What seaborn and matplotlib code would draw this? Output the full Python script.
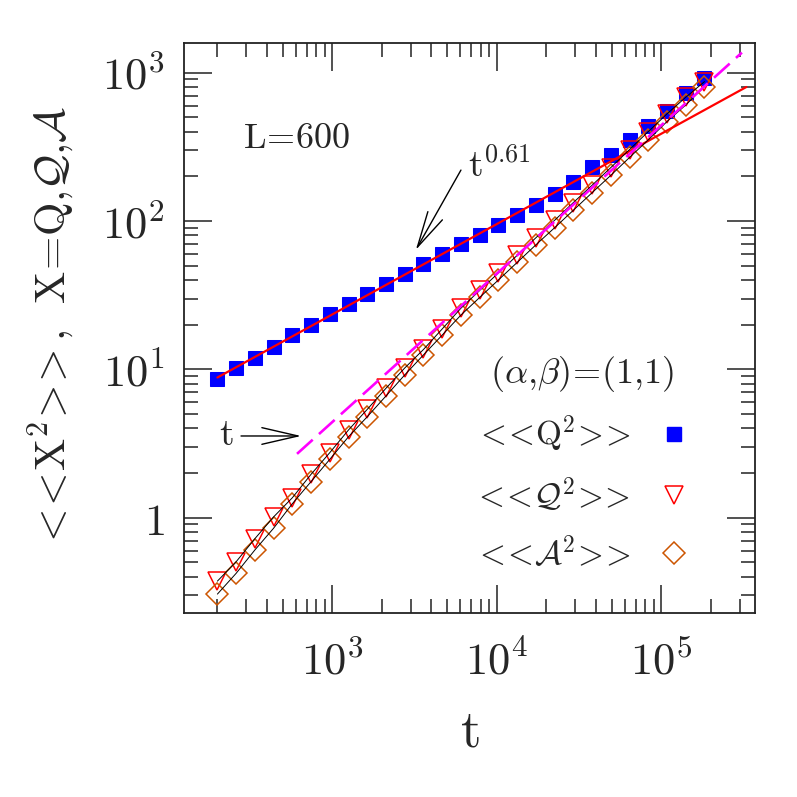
import numpy as np
import pandas as pd
import matplotlib
matplotlib.use("Agg")
import matplotlib.pyplot as plt
import matplotlib.ticker as mticker
from matplotlib.lines import Line2D
import seaborn as sns

# ---------------- data ----------------
t = [200, 260, 338, 439, 571, 743, 965, 1255, 1632, 2121, 2757, 3585, 4660,
     6058, 7876, 10238, 13310, 17303, 22494, 29242, 38015, 49420, 64245,
     83519, 108575, 141148, 183492]
Q2 = [8.6, 10.2, 12.0, 14.2, 16.9, 19.9, 23.5, 27.4, 32.2, 37.4, 43.9, 51.3,
      59.9, 70.0, 80.5, 94.0, 110, 128, 152, 184, 230, 279, 352, 437, 554,
      726, 917]
Qcal2 = [0.373, 0.504, 0.721, 1.01, 1.36, 1.96, 2.74, 3.90, 5.37, 7.45, 10.2,
         13.6, 18.7, 25.8, 34.0, 44.6, 58.6, 77.0, 101, 133, 174, 229, 303,
         400, 527, 682, 869]
Acal2 = [0.305, 0.421, 0.605, 0.847, 1.24, 1.75, 2.47, 3.51, 4.79, 6.61, 9.16,
         12.5, 17.0, 23.2, 30.5, 40.0, 52.5, 69, 90, 118, 155, 203, 268, 352,
         468, 605, 805]
fit_t = [200, 330000]          # t^0.61 fit line end points
fit_y = [8.8, 800]
lin_t = [610, 310000]          # slope-1 guide line end points
lin_y = [2.69, 1365]

xticks = [1e3, 1e4, 1e5]
xticklabels = [r"$10^3$", r"$10^4$", r"$10^5$"]
yticks = [1, 10, 100, 1000]
yticklabels = [r"$1$", r"$10^1$", r"$10^2$", r"$10^3$"]
legend_labels = [r"${<}\!\!{<}\!\mathrm{Q}^2\!{>}\!\!{>}$",
                 r"${<}\!\!{<}\!\mathcal{Q}^2\!{>}\!\!{>}$",
                 r"${<}\!\!{<}\!\mathcal{A}^2\!{>}\!\!{>}$"]
ylabel = (r"${<}\!\!{<}\!\mathrm{X}^2\!{>}\!\!{>}{,}\ \ "
          r"\mathrm{X}\!=\!\mathrm{Q}{,}\mathcal{Q}{,}\mathcal{A}$")

df = pd.DataFrame({"t": t, "Q2": Q2, "Qcal2": Qcal2, "Acal2": Acal2})
fit = pd.DataFrame({"t": fit_t, "y": fit_y})
lin = pd.DataFrame({"t": lin_t, "y": lin_y})

# ---------------- style ----------------
sns.set_theme(style="ticks")
plt.rcParams["mathtext.fontset"] = "cm"
plt.rcParams["font.family"] = ["DejaVu Serif"]

BLUE = "#0000ff"
RED = "#ff0000"
ORANGE = "#cc5500"
MAGENTA = "#ff00ff"

fig = plt.figure(figsize=(7.97, 7.97), dpi=100)
ax = fig.add_axes([0.2309, 0.2309, 0.7164, 0.7152])
ax.set_xscale("log")
ax.set_yscale("log")

# Q^2 filled squares + fit line
sns.lineplot(data=df, x="t", y="Q2", ax=ax, linestyle="", marker="s",
             markersize=10.5, color=BLUE, markeredgecolor=BLUE,
             legend=False, zorder=3)
sns.lineplot(data=fit, x="t", y="y", ax=ax, color=RED, lw=1.6,
             legend=False, zorder=4)

# calligraphic Q (triangles) and A (diamonds), with thin black connecting lines
sns.lineplot(data=df, x="t", y="Qcal2", ax=ax, linestyle="", marker="v",
             markersize=13, markerfacecolor="none", markeredgecolor=RED,
             markeredgewidth=1.1, legend=False, zorder=3)
sns.lineplot(data=df, x="t", y="Acal2", ax=ax, linestyle="", marker="D",
             markersize=11, markerfacecolor="none", markeredgecolor=ORANGE,
             markeredgewidth=1.1, legend=False, zorder=3)
sns.lineplot(data=df, x="t", y="Qcal2", ax=ax, color="black", lw=0.7,
             legend=False, zorder=4)
sns.lineplot(data=df, x="t", y="Acal2", ax=ax, color="black", lw=0.7,
             legend=False, zorder=4)

# slope-1 dashed guide
sns.lineplot(data=lin, x="t", y="y", ax=ax, color=MAGENTA, lw=1.9,
             dashes=False, legend=False, zorder=5)
ax.lines[-1].set_dashes((8, 3.2))

# ---------------- axes ----------------
ax.set_xlim(10 ** 2.098, 10 ** 5.571)
ax.set_ylim(10 ** -0.643, 10 ** 3.2)
ax.set_xticks(xticks)
ax.set_xticklabels(xticklabels)
ax.set_yticks(yticks)
ax.set_yticklabels(yticklabels)
ax.xaxis.set_minor_locator(mticker.LogLocator(base=10, subs=np.arange(2, 10), numticks=50))
ax.yaxis.set_minor_locator(mticker.LogLocator(base=10, subs=np.arange(2, 10), numticks=50))
ax.xaxis.set_minor_formatter(mticker.NullFormatter())
ax.yaxis.set_minor_formatter(mticker.NullFormatter())
ax.tick_params(which="both", direction="in", top=True, right=True,
               width=1.1, color="#222222")
ax.tick_params(which="major", length=20, labelsize=32)
ax.tick_params(which="minor", length=10)
ax.tick_params(axis="x", which="major", pad=20)
ax.tick_params(axis="y", which="major", pad=14)
for s in ax.spines.values():
    s.set_linewidth(1.3)
    s.set_color("#222222")

ax.set_xlabel(r"$\mathrm{t}$", fontsize=38, labelpad=16)
ax.set_ylabel(ylabel, fontsize=31, labelpad=18)

# ---------------- annotations ----------------
ax.text(0.103, 0.816, r"$\mathrm{L\!=\!600}$", transform=ax.transAxes,
        fontsize=26, ha="left", va="baseline")
ax.text(0.498, 0.765, r"$\mathrm{t}^{\mathsf{0.61}}$", transform=ax.transAxes,
        fontsize=27, ha="left", va="baseline")
ax.annotate("", xy=(0.406, 0.637), xytext=(0.485, 0.777),
            xycoords="axes fraction", textcoords="axes fraction",
            arrowprops=dict(arrowstyle="->,head_length=1.3,head_width=0.3",
                            lw=1.0, color="black", mutation_scale=20,
                            shrinkA=0, shrinkB=0))
ax.text(0.061, 0.2947, r"$\mathrm{t}$", transform=ax.transAxes,
        fontsize=27, ha="left", va="baseline")
ax.annotate("", xy=(0.205, 0.3105), xytext=(0.0998, 0.3105),
            xycoords="axes fraction", textcoords="axes fraction",
            arrowprops=dict(arrowstyle="->,head_length=1.3,head_width=0.3",
                            lw=1.0, color="black", mutation_scale=20,
                            shrinkA=0, shrinkB=0))

# ---------------- legend ----------------
handles = [
    Line2D([], [], linestyle="", marker="s", markersize=10.5, color=BLUE),
    Line2D([], [], linestyle="", marker="v", markersize=13,
           markerfacecolor="none", markeredgecolor=RED, markeredgewidth=1.1),
    Line2D([], [], linestyle="", marker="D", markersize=11,
           markerfacecolor="none", markeredgecolor=ORANGE, markeredgewidth=1.1),
]
leg = ax.legend(handles, legend_labels, loc="center",
                bbox_to_anchor=(0.697, 0.263), markerfirst=False,
                frameon=False, fontsize=24, handlelength=1.0,
                handletextpad=0.8, labelspacing=0.6,
                title=r"$(\alpha{,}\beta)\!=\!(1{,}1)$", title_fontsize=26,
                borderpad=0.1)

fig.savefig("out.png", dpi=100)
